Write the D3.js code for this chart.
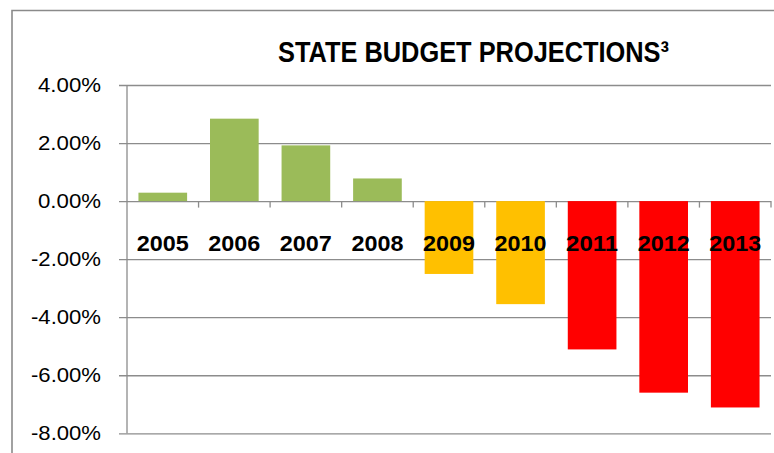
<!DOCTYPE html>
<html>
<head>
<meta charset="utf-8">
<script src="https://cdn.jsdelivr.net/npm/d3@7"></script>
<style>
  html, body { margin: 0; padding: 0; background: #fff; }
  svg { display: block; }
</style>
</head>
<body>
<svg id="chart" width="774" height="453"></svg>
<script>
const years = ["2005", "2006", "2007", "2008", "2009", "2010", "2011", "2012", "2013"];
const changePct = [0.29, 2.84, 1.92, 0.78, -2.51, -3.55, -5.11, -6.60, -7.11];
const yTicks = [4, 2, 0, -2, -4, -6, -8];
const titleText = "STATE BUDGET PROJECTIONS³";

const svg = d3.select("#chart");
const W = 774, H = 453;
const plot = { left: 127, right: 771, top: 85, bottom: 433.3 };

const x = d3.scaleBand().domain(years).range([plot.left, plot.right])
  .paddingInner(0.32).paddingOuter(0.16);
const y = d3.scaleLinear().domain([-8, 4]).range([plot.bottom, plot.top]);
const color = d3.scaleOrdinal().domain(years)
  .range(["#9BBB59", "#9BBB59", "#9BBB59", "#9BBB59", "#FFC000", "#FFC000", "#FF0000", "#FF0000", "#FF0000"]);

const gridColor = "#8c8c8c";
const fontFam = "Liberation Sans, Arial, sans-serif";

// outer frame (top and left edges visible)
svg.append("path")
  .attr("d", `M12,${H} L12,10.5 L${W},10.5`)
  .attr("fill", "none").attr("stroke", "#8a8a8a").attr("stroke-width", 1.6);

// title
svg.append("text")
  .attr("x", 278).attr("y", 62)
  .attr("font-family", fontFam)
  .attr("font-weight", "bold").attr("font-size", 29)
  .attr("fill", "#000")
  .attr("textLength", 391).attr("lengthAdjust", "spacingAndGlyphs")
  .text(titleText);

// y axis with gridlines
const pctFmt = d3.format(".2f");
const yAxis = d3.axisLeft(y).tickValues(yTicks)
  .tickSize(-(plot.right - plot.left)).tickPadding(26)
  .tickFormat(d => pctFmt(d).replace("\u2212", "-") + "%");
const gy = svg.append("g").attr("transform", `translate(${plot.left},0)`).call(yAxis);
gy.select(".domain").remove();
gy.selectAll(".tick line").attr("stroke", gridColor).attr("stroke-width", 1.3)
  .attr("x1", -8);
gy.selectAll(".tick text")
  .attr("font-family", fontFam)
  .attr("font-size", 20).attr("fill", "#000")
  .attr("textLength", function () { return this.textContent.startsWith("-") ? 70 : 63; })
  .attr("lengthAdjust", "spacingAndGlyphs");

// vertical axis line
svg.append("line")
  .attr("x1", plot.left).attr("x2", plot.left)
  .attr("y1", y(4)).attr("y2", y(-8))
  .attr("stroke", gridColor).attr("stroke-width", 1.3);

// bars
svg.append("g").selectAll("rect")
  .data(years)
  .join("rect")
  .attr("x", d => x(d))
  .attr("width", x.bandwidth())
  .attr("y", (d, i) => y(Math.max(0, changePct[i])))
  .attr("height", (d, i) => Math.abs(y(changePct[i]) - y(0)))
  .attr("fill", d => color(d));

// category axis ticks at band boundaries, below zero line
const step = x.step();
svg.append("g").selectAll("line")
  .data(years)
  .join("line")
  .attr("x1", d => x(d) + x.bandwidth() / 2 + step / 2)
  .attr("x2", d => x(d) + x.bandwidth() / 2 + step / 2)
  .attr("y1", y(0)).attr("y2", y(0) + 6.5)
  .attr("stroke", gridColor).attr("stroke-width", 1.3);

// category labels
svg.append("g").selectAll("text")
  .data(years)
  .join("text")
  .attr("x", d => x(d) + x.bandwidth() / 2)
  .attr("y", 250.5)
  .attr("text-anchor", "middle")
  .attr("font-family", fontFam)
  .attr("font-weight", "bold").attr("font-size", 22)
  .attr("fill", "#000")
  .attr("textLength", 52).attr("lengthAdjust", "spacingAndGlyphs")
  .text(d => d);
</script>
</body>
</html>
